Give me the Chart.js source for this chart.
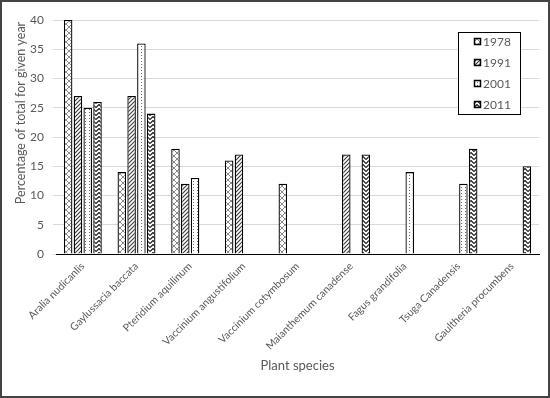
<!DOCTYPE html>
<html>
<head>
<meta charset="utf-8">
<script src="https://cdn.jsdelivr.net/npm/chart.js@4/dist/chart.umd.min.js"></script>
<style>
html,body{margin:0;padding:0;background:#fff;}
canvas{display:block;}
</style>
</head>
<body>
<canvas id="c" width="550" height="398"></canvas>
<script>
const categories = ["Aralia nudicanlis","Gaylussacia baccata","Pteridium aquilinum","Vaccinium angustifolium","Vaccinium cotymbosum","Maianthemum canadense","Fagus grandifolia","Tsuga Canadensis","Gaultheria procumbens"];
const seriesLabels = ["1978","1991","2001","2011"];
const values1978 = [40, 14, 18, 16, 12, null, null, null, null];
const values1991 = [27, 27, 12, 17, null, 17, null, null, null];
const values2001 = [25, 36, 13, null, null, null, 14, 12, null];
const values2011 = [26, 24, null, null, null, 17, null, 18, 15];
const yTicks = [0,5,10,15,20,25,30,35,40];
const yTitle = "Percentage of total for given year";
const xTitle = "Plant species";

const FONT = "Lato, 'Open Sans', sans-serif";
const TXT = "#595959";

function makePattern(kind){
  const c = document.createElement('canvas');
  const g = c.getContext('2d');
  if(kind===0){ // lattice
    c.width=6;c.height=6;g.fillStyle='#fff';g.fillRect(0,0,6,6);
    g.strokeStyle='#8a8a8a';g.lineWidth=1;
    g.beginPath();g.moveTo(0,0);g.lineTo(6,6);g.moveTo(6,0);g.lineTo(0,6);g.stroke();
  } else if(kind===1){ // diagonal stripes
    c.width=4;c.height=4;g.fillStyle='#fff';g.fillRect(0,0,4,4);
    g.strokeStyle='#3a3a3a';g.lineWidth=1.1;
    g.beginPath();g.moveTo(-1,5);g.lineTo(5,-1);g.moveTo(-1,1);g.lineTo(1,-1);g.moveTo(3,5);g.lineTo(5,3);g.stroke();
  } else if(kind===2){ // dotted
    c.width=4;c.height=3;g.fillStyle='#fff';g.fillRect(0,0,4,3);
    g.fillStyle='#6a6a6a';g.fillRect(1,1,1,1);
  } else { // zigzag
    c.width=6;c.height=4;g.fillStyle='#fff';g.fillRect(0,0,6,4);
    g.strokeStyle='#1a1a1a';g.lineWidth=1.2;
    g.beginPath();g.moveTo(0,3.5);g.lineTo(3,0.5);g.lineTo(6,3.5);g.stroke();
  }
  return document.getElementById('c').getContext('2d').createPattern(c,'repeat');
}
const patterns = [makePattern(0),makePattern(1),makePattern(2),makePattern(3)];
const allValues = [values1978, values1991, values2001, values2011];

const framePlugin = {
  id:'frame',
  afterDraw(chart){
    const ctx = chart.ctx;
    ctx.save();
    ctx.fillStyle = TXT;
    ctx.font = "12.5px " + FONT;
    ctx.textAlign='center';ctx.textBaseline='middle';
    ctx.translate(21,113);ctx.rotate(-Math.PI/2);
    ctx.fillText(yTitle,0,0);
    ctx.restore();
    // legend
    ctx.save();
    const bx=458, by=32, bw=62, bh=82;
    ctx.fillStyle='#fff';ctx.fillRect(bx,by,bw,bh);
    ctx.strokeStyle='#000';ctx.lineWidth=1;ctx.strokeRect(bx+0.5,by+0.5,bw,bh);
    chart.data.datasets.forEach((ds,i)=>{
      const y = 42 + i*21;
      ctx.fillStyle = ds.backgroundColor;
      ctx.fillRect(474,y-4,7,7);
      ctx.strokeStyle='#000';ctx.lineWidth=1.5;ctx.strokeRect(474.5,y-3.5,6,6);
      ctx.fillStyle=TXT;ctx.font="12px "+FONT;ctx.textAlign='left';ctx.textBaseline='middle';
      ctx.fillText(ds.label,483,y);
    });
    ctx.restore();
    ctx.save();
    ctx.strokeStyle='#444';ctx.lineWidth=2;
    ctx.strokeRect(1,1,548,396);
    ctx.restore();
  }
};

new Chart(document.getElementById('c'),{
  type:'bar',
  data:{
    labels:categories,
    datasets: seriesLabels.map((lab,i)=>({
      label:lab,
      data:allValues[i],
      backgroundColor:patterns[i],
      borderColor:'#000',
      borderWidth:1.3,
      categoryPercentage:0.73,
      barPercentage:0.87
    }))
  },
  options:{
    responsive:false,
    animation:false,
    layout:{padding:{top:20,right:11,bottom:0,left:0}},
    plugins:{legend:{display:false},tooltip:{enabled:false}},
    scales:{
      x:{
        grid:{display:false,drawTicks:false},
        border:{display:true,color:'#000',width:1},
        ticks:{color:TXT,font:{size:10.5,family:FONT},minRotation:45,maxRotation:45,padding:6,autoSkip:false},
        title:{display:true,text:xTitle,color:TXT,font:{size:13,family:FONT},padding:{top:0,bottom:24}},
        afterFit(s){s.height=144;}
      },
      y:{
        min:0,max:40,
        afterBuildTicks(s){s.ticks=yTicks.map(v=>({value:v}));},
        grid:{color:'#d9d9d9',lineWidth:1,tickLength:3},
        border:{display:false},
        ticks:{color:TXT,font:{size:12,family:FONT},padding:9},
        afterFit(s){s.width=56;}
      }
    }
  },
  plugins:[framePlugin]
});
</script>
</body>
</html>
